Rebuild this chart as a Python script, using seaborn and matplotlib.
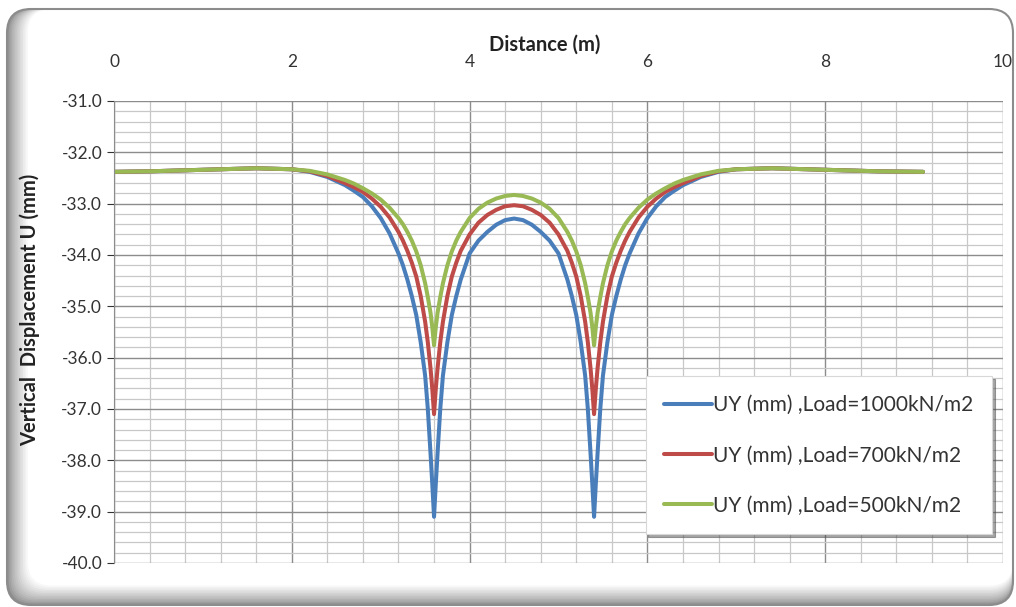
import numpy as np
import pandas as pd
import matplotlib
matplotlib.use("Agg")
import matplotlib.pyplot as plt
from matplotlib.patches import FancyBboxPatch
from matplotlib.ticker import MultipleLocator, FormatStrFormatter
from matplotlib.transforms import IdentityTransform
import seaborn as sns

# Distance along the section (m)
distance = [0.0, 0.4, 0.8, 1.2, 1.6, 2.0, 2.2, 2.4, 2.6, 2.7, 2.8, 2.9, 3.0, 3.1, 3.2,
            3.25, 3.3, 3.35, 3.4, 3.45, 3.5, 3.53, 3.56, 3.58, 3.6,
            3.62, 3.64, 3.67, 3.7, 3.75, 3.8, 3.85, 3.9, 4.0, 4.1, 4.2, 4.3, 4.4, 4.5,
            4.6, 4.7, 4.8, 4.9, 5.0, 5.1, 5.15, 5.2, 5.25, 5.3, 5.33, 5.36, 5.38, 5.4,
            5.42, 5.44, 5.47, 5.5, 5.55, 5.6, 5.65, 5.7, 5.75, 5.8, 5.9, 6.0, 6.1,
            6.2, 6.3, 6.4, 6.6, 6.8, 7.0, 7.4, 7.8, 8.2, 8.6, 9.1]

# Vertical displacement UY (mm)
uy_1000 = [-32.38, -32.37, -32.35, -32.33, -32.31, -32.33, -32.38, -32.48, -32.64,
           -32.75, -32.87, -33.05, -33.28, -33.58, -33.97, -34.20, -34.48, -34.80,
           -35.17, -35.70, -36.35, -37.00, -37.85, -38.45, -39.10,
           -38.45, -37.85, -37.00, -36.35, -35.70, -35.17, -34.80, -34.48, -33.97,
           -33.72, -33.55, -33.41, -33.32, -33.29,
           -33.32, -33.41, -33.55, -33.72, -33.97, -34.48, -34.80, -35.17, -35.70,
           -36.35, -37.00, -37.85, -38.45, -39.10,
           -38.45, -37.85, -37.00, -36.35, -35.70, -35.17, -34.80, -34.48, -34.20,
           -33.97, -33.58, -33.28, -33.05, -32.87, -32.75, -32.64, -32.48, -32.38,
           -32.33, -32.31, -32.33, -32.35, -32.37, -32.38]
uy_700 = [-32.38, -32.37, -32.35, -32.33, -32.31, -32.33, -32.37, -32.46, -32.60,
          -32.68, -32.77, -32.90, -33.06, -33.27, -33.55, -33.72, -33.92, -34.15,
          -34.42, -34.80, -35.30, -35.70, -36.20, -36.60, -37.10,
          -36.60, -36.20, -35.70, -35.30, -34.80, -34.42, -34.15, -33.92, -33.60,
          -33.37, -33.22, -33.12, -33.05, -33.03,
          -33.05, -33.12, -33.22, -33.37, -33.60, -33.92, -34.15, -34.42, -34.80,
          -35.30, -35.70, -36.20, -36.60, -37.10,
          -36.60, -36.20, -35.70, -35.30, -34.80, -34.42, -34.15, -33.92, -33.72,
          -33.55, -33.27, -33.06, -32.90, -32.77, -32.68, -32.60, -32.46, -32.37,
          -32.33, -32.31, -32.33, -32.35, -32.37, -32.38]
uy_500 = [-32.38, -32.37, -32.35, -32.33, -32.31, -32.33, -32.36, -32.43, -32.54,
          -32.61, -32.70, -32.80, -32.92, -33.08, -33.28, -33.40, -33.55, -33.72,
          -33.93, -34.20, -34.55, -34.82, -35.12, -35.40, -35.76,
          -35.40, -35.12, -34.82, -34.55, -34.20, -33.93, -33.72, -33.55, -33.28,
          -33.10, -32.98, -32.90, -32.85, -32.83,
          -32.85, -32.90, -32.98, -33.10, -33.28, -33.55, -33.72, -33.93, -34.20,
          -34.55, -34.82, -35.12, -35.40, -35.76,
          -35.40, -35.12, -34.82, -34.55, -34.20, -33.93, -33.72, -33.55, -33.40,
          -33.28, -33.08, -32.92, -32.80, -32.70, -32.61, -32.54, -32.43, -32.36,
          -32.33, -32.31, -32.33, -32.35, -32.37, -32.38]

series_labels = ["UY (mm) ,Load=1000kN/m2", "UY (mm) ,Load=700kN/m2",
                 "UY (mm) ,Load=500kN/m2"]
series_colors = ["#4A7EBB", "#BE4B48", "#98B954"]

df = pd.concat([
    pd.DataFrame({"Distance": distance, "UY": uy_1000, "Series": series_labels[0]}),
    pd.DataFrame({"Distance": distance, "UY": uy_700, "Series": series_labels[1]}),
    pd.DataFrame({"Distance": distance, "UY": uy_500, "Series": series_labels[2]}),
])

sns.set_style("white")
plt.rcParams["font.family"] = ["Lato", "DejaVu Sans"]

W, H = 1016, 607
fig = plt.figure(figsize=(W / 100, H / 100), dpi=100)

# Rounded chart area with a grey shade on the left and bottom edges (pixel coords)
x_left, x_right, y_top, y_bot = 7, 1013, H - 9, 2
steps = 14
for i in range(steps):
    shade = 0.56 + 0.44 * (i / (steps - 1)) ** 0.8
    x0 = x_left + i * 1.6
    y0 = y_bot + i * 1.5
    p = FancyBboxPatch((x0, y0), x_right - x0, y_top - y0,
                       boxstyle="round,pad=0,rounding_size=24",
                       transform=IdentityTransform(), facecolor=(shade, shade, shade),
                       edgecolor="none", zorder=-5 + i * 0.01)
    fig.patches.append(p)
border = FancyBboxPatch((x_left, y_bot), x_right - x_left, y_top - y_bot,
                        boxstyle="round,pad=0,rounding_size=24",
                        transform=IdentityTransform(), facecolor="none",
                        edgecolor="#8c8c8c", linewidth=1.5, zorder=-4)
fig.patches.append(border)

ax = fig.add_axes([114 / W, 1 - 563 / H, 889 / W, 462 / H])
ax.set_zorder(2)
ax.set_facecolor("white")

sns.lineplot(data=df, x="Distance", y="UY", hue="Series", palette=series_colors,
             linewidth=2.9, ax=ax, sort=False, estimator=None,
             solid_joinstyle="round", solid_capstyle="round")

ax.set_xlim(0, 10)
ax.set_ylim(-40, -31)
ax.xaxis.set_major_locator(MultipleLocator(2))
ax.xaxis.set_minor_locator(MultipleLocator(0.4))
ax.yaxis.set_major_locator(MultipleLocator(1))
ax.yaxis.set_minor_locator(MultipleLocator(0.2))
ax.yaxis.set_major_formatter(FormatStrFormatter("%.1f"))

ax.grid(which="major", color="#8c8c8c", linewidth=1.0)
ax.grid(which="minor", color="#c8c8c8", linewidth=0.9)
ax.set_axisbelow(True)

ax.xaxis.tick_top()
ax.xaxis.set_label_position("top")
ax.tick_params(axis="x", which="both", length=0, labelsize=12.5, colors="#333333", pad=22)
ax.tick_params(axis="y", which="major", length=5, labelsize=12.5, colors="#333333",
               direction="out", left=True)
ax.tick_params(axis="y", which="minor", length=0)

for side in ["top", "right", "bottom"]:
    ax.spines[side].set_visible(False)
ax.spines["left"].set_color("#8c8c8c")

ax.set_xlabel("Distance (m)", fontsize=14.5, fontweight="bold", color="#222222")
ax.xaxis.set_label_coords(0.485, 1.108)
ax.set_ylabel("Vertical  Displacement U (mm)", fontsize=14.5, fontweight="bold",
              color="#222222")
ax.yaxis.set_label_coords(-0.083, 0.548)

leg = ax.legend(loc="lower right", bbox_to_anchor=(0.988, 0.062), fontsize=15,
                frameon=True, fancybox=False, shadow=True, labelspacing=1.45,
                handlelength=2.3, handletextpad=0.05, borderpad=0.9,
                borderaxespad=0)
leg.get_frame().set_edgecolor("#d8d8d8")
leg.get_frame().set_linewidth(0.8)
for t in leg.get_texts():
    t.set_color("#333333")

fig.savefig("out.png", dpi=100)
